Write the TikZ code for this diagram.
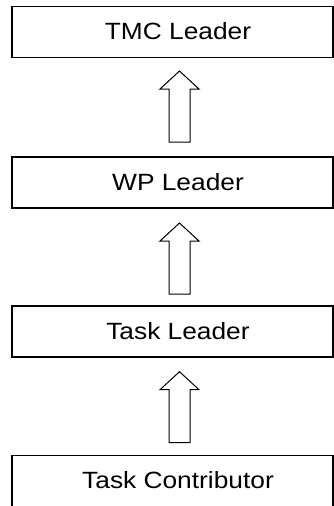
\documentclass[tikz,border=0pt]{standalone}
\usepackage{fontspec}
\setmainfont{Liberation Sans}
\tikzset{
  box/.style={draw, line width=1.6pt, minimum width=321pt, minimum height=51pt,
    inner sep=0pt, font=\fontsize{23.5}{28}\selectfont},
  blockarrow/.pic={\draw[line width=1pt, line join=miter, fill=white]
    (0,0) -- (19.5,18) -- (10.5,18) -- (10.5,71) -- (-10.5,71) -- (-10.5,18) -- (-19.5,18) -- cycle;}
}
\newcommand{\boxtext}[1]{\hspace*{11pt}\raisebox{1.5pt}{\scalebox{1.12}[1]{#1}}}
\begin{document}
\begin{tikzpicture}[x=1pt,y=-1pt]
  \useasboundingbox (0,0) rectangle (334,506);
  \clip (0,0) rectangle (334,506);
  \node[box] (tmc) at (172.5,32) {\boxtext{TMC Leader}};
  \node[box] (wp) at (172.5,182.3) {\boxtext{WP Leader}};
  \node[box] (tl) at (172.5,331.4) {\boxtext{Task Leader}};
  \node[box] (tc) at (172.5,481.1) {\boxtext{Task Contributor}};
  \pic (a1) at (179.5,71) {blockarrow};
  \pic (a2) at (179.5,223) {blockarrow};
  \pic (a3) at (179.5,371.7) {blockarrow};
\end{tikzpicture}
\end{document}
